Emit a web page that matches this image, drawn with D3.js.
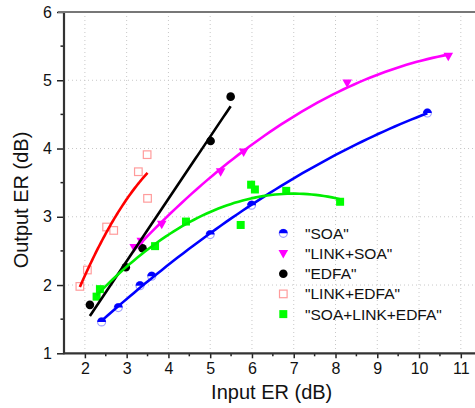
<!DOCTYPE html>
<html>
<head>
<meta charset="utf-8">
<script src="https://cdn.jsdelivr.net/npm/d3@7"></script>
<style>
  body { margin: 0; background: #fff; }
  svg { display: block; font-family: "Liberation Sans", Arial, sans-serif; }
</style>
</head>
<body>
<div id="chart"></div>
<script>
var soaX = [2.40, 2.80, 3.32, 3.60, 5.00, 5.99, 10.20];
var soaY = [1.46, 1.67, 1.99, 2.13, 2.74, 3.17, 4.52];

var linkSoaX = [3.18, 3.35, 3.84, 5.25, 5.80, 8.28, 10.70];
var linkSoaY = [2.55, 2.64, 2.89, 3.66, 3.95, 4.96, 5.35];

var edfaX = [2.12, 2.98, 3.38, 5.01, 5.49];
var edfaY = [1.71, 2.26, 2.54, 4.11, 4.76];

var linkEdfaX = [1.88, 2.06, 2.52, 2.69, 3.28, 3.49, 3.50];
var linkEdfaY = [1.98, 2.22, 2.85, 2.80, 3.66, 3.91, 3.27];

var allX = [2.28, 2.36, 3.68, 4.42, 5.73, 5.98, 6.07, 6.82, 8.11];
var allY = [1.83, 1.94, 2.57, 2.93, 2.88, 3.47, 3.40, 3.38, 3.22];

var legendNames = ['"SOA"', '"LINK+SOA"', '"EDFA"', '"LINK+EDFA"', '"SOA+LINK+EDFA"'];
var xTicks = [2, 3, 4, 5, 6, 7, 8, 9, 10, 11];
var yTicks = [1, 2, 3, 4, 5, 6];

var width = 475, height = 408;

var svg = d3.select("#chart").append("svg")
	.attr("width", width)
	.attr("height", height);

var x = d3.scaleLinear().domain([1.5, 11.5]).range([64, 481.7]);
var y = d3.scaleLinear().domain([1, 6]).range([353.3, 12]);

// dotted grid
svg.append("g").selectAll("line").data(xTicks).join("line")
	.attr("x1", d => x(d)).attr("x2", d => x(d))
	.attr("y1", y(6)).attr("y2", y(1))
	.attr("stroke", "#c8c8c8").attr("stroke-width", 1)
	.attr("stroke-dasharray", "1,3");
svg.append("g").selectAll("line").data(yTicks.slice(1, 5)).join("line")
	.attr("x1", x(1.5)).attr("x2", width)
	.attr("y1", d => y(d)).attr("y2", d => y(d))
	.attr("stroke", "#c8c8c8").attr("stroke-width", 1)
	.attr("stroke-dasharray", "1,3");

// least squares polynomial fit (deg 1 or 2)
function polyFit(xs, ys, deg) {
	var n = deg + 1, A = [], b = [];
	for (var i = 0; i < n; i++) {
		A.push([]);
		for (var j = 0; j < n; j++) A[i].push(d3.sum(xs, v => Math.pow(v, i + j)));
		b.push(d3.sum(xs, (v, k) => Math.pow(v, i) * ys[k]));
	}
	// gauss elimination
	for (var c = 0; c < n; c++) {
		for (var r = c + 1; r < n; r++) {
			var f = A[r][c] / A[c][c];
			for (var k = c; k < n; k++) A[r][k] -= f * A[c][k];
			b[r] -= f * b[c];
		}
	}
	var coef = new Array(n);
	for (var r = n - 1; r >= 0; r--) {
		var s = b[r];
		for (var k = r + 1; k < n; k++) s -= A[r][k] * coef[k];
		coef[r] = s / A[r][r];
	}
	return coef;
}

function fitCurve(xs, ys, deg, color) {
	var coef = polyFit(xs, ys, deg);
	var x0 = d3.min(xs), x1 = d3.max(xs);
	var pts = d3.range(0, 61).map(i => {
		var xv = x0 + (x1 - x0) * i / 60;
		var yv = coef.reduce((s, c, p) => s + c * Math.pow(xv, p), 0);
		return [xv, yv];
	});
	svg.append("path")
		.attr("d", d3.line().x(d => x(d[0])).y(d => y(d[1]))(pts))
		.attr("fill", "none")
		.attr("stroke", color)
		.attr("stroke-width", 2.6);
}

function zip(xs, ys) { return xs.map((v, i) => [v, ys[i]]); }

// marker drawers
function soaMark(g, px, py) {
	g.append("circle").attr("cx", px).attr("cy", py).attr("r", 4)
		.attr("fill", "#fff").attr("stroke", "#a0a0ff").attr("stroke-width", 1.2);
	g.append("path")
		.attr("d", "M" + (px - 4.4) + "," + py + " A4.4,4.4 0 0 1 " + (px + 4.4) + "," + py + " Z")
		.attr("fill", "#0000ff");
}
function triMark(g, px, py) {
	g.append("path")
		.attr("d", "M" + (px - 4.8) + "," + (py - 3.5) + " L" + (px + 4.8) + "," + (py - 3.5) + " L" + px + "," + (py + 5) + " Z")
		.attr("fill", "#ff00ff");
}
function dotMark(g, px, py) {
	g.append("circle").attr("cx", px).attr("cy", py).attr("r", 4.3).attr("fill", "#000");
}
function openSq(g, px, py) {
	g.append("rect").attr("x", px - 3.8).attr("y", py - 3.8).attr("width", 7.6).attr("height", 7.6)
		.attr("fill", "#fff").attr("stroke", "#ff9c9c").attr("stroke-width", 1.2);
}
function greenSq(g, px, py) {
	g.append("rect").attr("x", px - 4).attr("y", py - 4).attr("width", 8).attr("height", 8)
		.attr("fill", "#00ff00");
}

var series = [
	{ xs: soaX, ys: soaY, mark: soaMark, color: "#0000ff", deg: 2 },
	{ xs: linkSoaX, ys: linkSoaY, mark: triMark, color: "#ff00ff", deg: 2 },
	{ xs: edfaX, ys: edfaY, mark: dotMark, color: "#000000", deg: 1 },
	{ xs: linkEdfaX, ys: linkEdfaY, mark: openSq, color: "#ff0000", deg: 2 },
	{ xs: allX, ys: allY, mark: greenSq, color: "#00ee00", deg: 2 }
];

var pts = svg.append("g");
series.forEach(s => {
	zip(s.xs, s.ys).forEach(p => s.mark(pts, x(p[0]), y(p[1])));
});
series.forEach(s => fitCurve(s.xs, s.ys, s.deg, s.color));

// axes
var xAxis = d3.axisBottom(x).tickValues(xTicks).tickSize(5).tickPadding(4).tickFormat(d3.format("d"));
var gx = svg.append("g").attr("transform", "translate(0," + y(1) + ")").call(xAxis);
svg.append("g").attr("transform", "translate(0," + y(1) + ")")
	.selectAll("line").data(d3.range(2.5, 11.6, 1)).join("line")
	.attr("x1", d => x(d)).attr("x2", d => x(d)).attr("y1", 0).attr("y2", 3)
	.attr("stroke", "#222").attr("stroke-width", 1.5);

var yAxis = d3.axisLeft(y).tickValues(yTicks).tickSize(7).tickPadding(5).tickFormat(d3.format("d"));
var gy = svg.append("g").attr("transform", "translate(" + x(1.5) + ",0)").call(yAxis);
svg.append("g").attr("transform", "translate(" + x(1.5) + ",0)")
	.selectAll("line").data(d3.range(1.5, 6, 1)).join("line")
	.attr("x1", -3.5).attr("x2", 0).attr("y1", d => y(d)).attr("y2", d => y(d))
	.attr("stroke", "#222").attr("stroke-width", 1.5);

[gx, gy].forEach(g => {
	g.select(".domain").remove();
	g.selectAll(".tick line").attr("stroke", "#222").attr("stroke-width", 1.5);
	g.selectAll(".tick text").attr("font-size", 16).attr("fill", "#111")
		.attr("font-family", "Liberation Sans, Arial, sans-serif");
});

// frame lines
svg.append("line").attr("x1", x(1.5)).attr("x2", width).attr("y1", y(1)).attr("y2", y(1))
	.attr("stroke", "#333").attr("stroke-width", 2.2);
svg.append("line").attr("x1", x(1.5)).attr("x2", x(1.5)).attr("y1", y(6) - 1).attr("y2", y(1) + 1)
	.attr("stroke", "#333").attr("stroke-width", 2.2);
svg.append("line").attr("x1", x(1.5) - 6).attr("x2", width).attr("y1", y(6)).attr("y2", y(6))
	.attr("stroke", "#777").attr("stroke-width", 2.2);

// axis titles
svg.append("text").attr("x", 271.7).attr("y", 399)
	.attr("text-anchor", "middle").attr("font-size", 20).attr("fill", "#111")
	.text("Input ER (dB)");
svg.append("text")
	.attr("transform", "translate(28,200) rotate(-90)")
	.attr("text-anchor", "middle").attr("font-size", 20).attr("fill", "#111")
	.text("Output ER (dB)");

// legend
var legend = svg.append("g");
series.forEach((s, i) => {
	var ly = 233.3 + i * 20.2;
	s.mark(legend, 283.3, ly);
	legend.append("text").attr("x", 305).attr("y", ly + 5.5)
		.attr("font-size", 15.5).attr("fill", "#111")
		.text(legendNames[i]);
});
</script>
</body>
</html>
